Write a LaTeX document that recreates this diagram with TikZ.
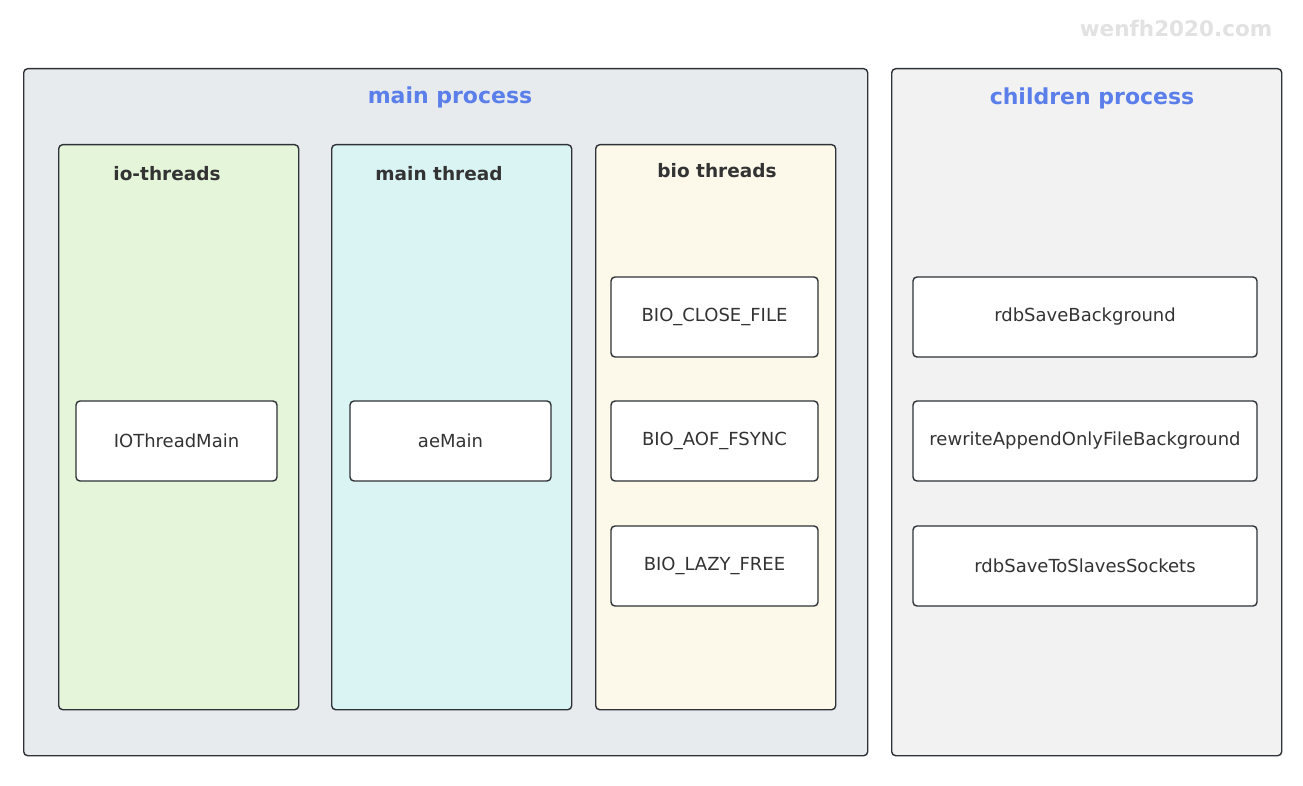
\documentclass[tikz,border=0pt]{standalone}
\usepackage{fontspec}
\setmainfont{DejaVu Sans}
\definecolor{edge}{HTML}{2E3236}
\definecolor{titleblue}{HTML}{5A7EEA}
\definecolor{mainbg}{HTML}{E7EBEE}
\definecolor{childbg}{HTML}{F2F2F2}
\definecolor{iobg}{HTML}{E4F5DA}
\definecolor{mtbg}{HTML}{DAF4F4}
\definecolor{biobg}{HTML}{FCF8EA}
\definecolor{wm}{HTML}{E2E2E2}
\definecolor{txt}{HTML}{333333}
\tikzset{
  x=1pt, y=-1pt,
  panel/.style={draw=edge, line width=1.4pt, rounded corners=4pt, inner sep=0pt, anchor=north west},
  func/.style={draw=edge, line width=1.4pt, rounded corners=4pt, fill=white, inner sep=0pt, text=txt, font=\fontsize{18}{22}\selectfont},
  ptitle/.style={text=titleblue, font=\bfseries\fontsize{22}{26}\selectfont},
  ttitle/.style={text=txt, font=\bfseries\fontsize{18.5}{22}\selectfont},
}
\begin{document}
\begin{tikzpicture}
\useasboundingbox[fill=white] (0,0) rectangle (1303,786);
\node[text=wm, font=\bfseries\fontsize{21.5}{26}\selectfont] (wmark) at (1176,28) {wenfh2020.com};
% processes
\node[panel, fill=mainbg, minimum width=844pt, minimum height=687pt] (mainp) at (23,68) {};
\node[panel, fill=childbg, minimum width=390pt, minimum height=687pt] (childp) at (891,68) {};
\node[ptitle] (mainpt) at (450,97) {main process};
\node[ptitle] (childpt) at (1092,98) {children process};
% threads
\node[panel, fill=iobg, minimum width=240pt, minimum height=565pt] (io) at (58,144) {};
\node[panel, fill=mtbg, minimum width=240pt, minimum height=565pt] (mt) at (331,144) {};
\node[panel, fill=biobg, minimum width=240pt, minimum height=565pt] (bio) at (595,144) {};
\node[ttitle] (iot) at (167,174) {io-threads};
\node[ttitle] (mtt) at (439,174) {main thread};
\node[ttitle] (biot) at (717,171) {bio threads};
% functions
\node[func, minimum width=201pt, minimum height=80pt] (iomain) at (176.5,441) {IOThreadMain};
\node[func, minimum width=201pt, minimum height=80pt] (aemain) at (450.5,441) {aeMain};
\node[func, minimum width=207pt, minimum height=80pt] (bclose) at (714.5,317) {BIO\_CLOSE\_FILE};
\node[func, minimum width=207pt, minimum height=80pt] (bfsync) at (714.5,441) {BIO\_AOF\_FSYNC};
\node[func, minimum width=207pt, minimum height=80pt] (blazy) at (714.5,566) {BIO\_LAZY\_FREE};
\node[func, minimum width=344pt, minimum height=80pt] (rdbbg) at (1085,317) {rdbSaveBackground};
\node[func, minimum width=344pt, minimum height=80pt] (aofbg) at (1085,441) {rewriteAppendOnlyFileBackground};
\node[func, minimum width=344pt, minimum height=80pt] (rdbsock) at (1085,566) {rdbSaveToSlavesSockets};
\end{tikzpicture}
\end{document}
